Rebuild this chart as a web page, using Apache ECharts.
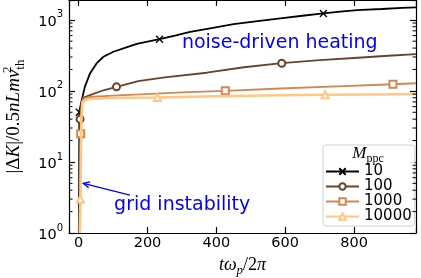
<!DOCTYPE html>
<html><head><meta charset="utf-8">
<script src="https://cdn.jsdelivr.net/npm/echarts@6/dist/echarts.min.js"></script>
<style>html,body{margin:0;padding:0;background:#fff}#c{width:421px;height:278px}</style>
</head><body><div id="c"></div>
<script>
// ---- data ----
const seriesNames = ['10', '100', '1000', '10000'];
const t10    = [1, 2, 5, 9, 18, 33, 52, 72, 101, 130, 169, 235, 280, 324, 390, 450, 520, 586, 650, 711, 760, 809, 880, 940, 980];
const k10    = [1, 50, 60, 74, 114, 176, 243, 302, 355, 397, 457, 533, 600, 677, 770, 870, 960, 1050, 1140, 1230, 1300, 1370, 1420, 1470, 1500];
const t100   = [2, 4, 7, 9, 13, 33, 72, 110, 173, 250, 372, 480, 590, 700, 800, 900, 980];
const k100   = [1, 40, 65, 70, 80, 87, 102, 114, 137, 155, 180, 215, 245, 270, 290, 312, 330];
const t1000  = [4, 6, 9, 13, 30, 100, 178, 300, 426, 586, 750, 913, 980];
const k1000  = [1, 25, 60, 78, 82, 86, 89, 95, 100, 108, 116, 124, 128];
const t10000 = [3, 5, 8, 11, 15, 25, 60, 100, 229, 400, 586, 716, 850, 980];
const k10000 = [1, 3, 40, 70, 74, 76, 78, 80, 81, 84, 87, 88, 89, 90];
const markTimes = [[2, 235, 711], [4, 110, 590], [6, 426, 913], [5, 229, 716]];
const xTickLabels = [0, 200, 400, 600, 800];
const yTickLabels = [1, 10, 100, 1000];

const X_MIN = -28, X_MAX = 980, Y_MIN = 1, Y_MAX = 1900;
const colors = ['#000000', '#6a422a', '#d48554', '#ffc77f'];
const symbols = ['path://M0,0L10,10M10,0L0,10', 'emptyCircle', 'emptyRect', 'emptyTriangle'];
const ts = [t10, t100, t1000, t10000];
const ks = [k10, k100, k1000, k10000];

const chart = echarts.init(document.getElementById('c'), null, {renderer: 'canvas'});

const lineSeries = seriesNames.map((name, s) => ({
  name, type: 'line', xAxisIndex: 0, yAxisIndex: 0,
  symbol: symbols[s], symbolSize: 7, showSymbol: true, showAllSymbol: true,
  clip: true,
  lineStyle: {color: colors[s], width: s === 3 ? 2.5 : 1.8},
  itemStyle: {color: colors[s], borderColor: colors[s], borderWidth: 1.3},
  emphasis: {disabled: true},
  z: 2 + s,
  data: ts[s].map((t, i) => markTimes[s].includes(t)
    ? {value: [t, ks[s][i]]}
    : {value: [t, ks[s][i]], symbol: 'none'})
}));

const minorVals = [];
for (let e = 0; e < 4; e++) for (let m = 2; m <= 9; m++) {
  const v = m * Math.pow(10, e); if (v <= Y_MAX) minorVals.push(v);
}
const minorSeries = {
  type: 'custom', xAxisIndex: 0, yAxisIndex: 0, silent: true, z: 10,
  data: minorVals.map(v => [X_MIN, v]),
  encode: {x: 0, y: 1},
  renderItem(params, api) {
    const v = api.value(1);
    const L = api.coord([X_MIN, v]);
    const R = api.coord([X_MAX, v]);
    return {type: 'group', children: [
      {type: 'line', shape: {x1: L[0], y1: L[1], x2: L[0] + 3.5, y2: L[1]}, style: {stroke: '#000', lineWidth: 1}},
      {type: 'line', shape: {x1: R[0], y1: R[1], x2: R[0] - 3.5, y2: R[1]}, style: {stroke: '#000', lineWidth: 1}}
    ]};
  }
};

const axisLine = {show: true, onZero: false, lineStyle: {color: '#000', width: 1.2}};
const axisTick = {show: true, inside: true, length: 6, lineStyle: {color: '#000', width: 1.2}};
const serif = 'Liberation Serif';

const option = {
  animation: false,
  grid: {left: 69, right: 5, top: 0, bottom: 45, containLabel: false, outerBoundsMode: 'none'},
  xAxis: [{
    type: 'value', min: X_MIN, max: X_MAX, splitNumber: 5, position: 'bottom',
    axisLine, axisTick, splitLine: {show: false},
    axisLabel: {formatter: v => xTickLabels.includes(v) ? String(v) : '', color: '#000',
      fontFamily: 'DejaVu Sans', fontSize: 14.5, margin: 3, showMinLabel: true, showMaxLabel: true},
    name: '{i|tω}{sub|p}{n|/2}{i|π}', nameLocation: 'middle', nameGap: 19,
    nameTextStyle: {rich: {
      i: {fontFamily: serif, fontStyle: 'italic', fontSize: 18, color: '#000'},
      n: {fontFamily: serif, fontSize: 18, color: '#000'},
      sub: {fontFamily: serif, fontStyle: 'italic', fontSize: 13, color: '#000', verticalAlign: 'bottom', lineHeight: 24}
    }}
  }, {
    type: 'value', min: X_MIN, max: X_MAX, splitNumber: 5, position: 'top',
    axisLine, axisTick, splitLine: {show: false}, axisLabel: {show: false}
  }],
  yAxis: [{
    type: 'log', logBase: 10, min: Y_MIN, max: Y_MAX, position: 'left',
    axisLine, axisTick, splitLine: {show: false},
    axisLabel: {
      formatter: v => {
        const e = Math.round(Math.log10(v));
        if (Math.abs(Math.log10(v) - e) > 1e-6 || !yTickLabels.includes(Math.pow(10, e))) return '';
        return '{b|10}{e|' + e + '}';
      },
      margin: 6,
      rich: {
        b: {fontFamily: 'DejaVu Sans', fontSize: 14.5, color: '#000', lineHeight: 20, verticalAlign: 'bottom'},
        e: {fontFamily: 'DejaVu Sans', fontSize: 10, color: '#000', verticalAlign: 'top', lineHeight: 20}
      }
    },
    name: '{n||Δ}{i|K}{n||/0.5}{i|nLmv}{sup|2}{sub|th}', nameLocation: 'middle', nameGap: 34, nameRotate: 90,
    nameTextStyle: {rich: {
      i: {fontFamily: serif, fontStyle: 'italic', fontSize: 19, color: '#000', lineHeight: 26},
      n: {fontFamily: serif, fontSize: 19, color: '#000', lineHeight: 26},
      sup: {fontFamily: serif, fontSize: 13, color: '#000', verticalAlign: 'top', lineHeight: 26, width: 0.01},
      sub: {fontFamily: serif, fontSize: 13, color: '#000', verticalAlign: 'bottom', lineHeight: 26}
    }}
  }, {
    type: 'log', logBase: 10, min: Y_MIN, max: Y_MAX, position: 'right',
    axisLine, axisTick, splitLine: {show: false}, axisLabel: {show: false}
  }],
  legend: {
    data: seriesNames, orient: 'vertical', left: 323, top: 145,
    padding: [19, 3, 2, 2], itemGap: 0, itemWidth: 33, itemHeight: 8,
    backgroundColor: 'rgba(255,255,255,0.85)', borderColor: '#d0d0d0', borderWidth: 1, borderRadius: 3,
    textStyle: {fontFamily: 'DejaVu Sans', fontSize: 15, color: '#000', lineHeight: 14.7},
    selectedMode: false
  },
  series: [...lineSeries, minorSeries]
};
chart.setOption(option);

// annotations anchored in data space
const px = p => chart.convertToPixel({xAxisIndex: 0, yAxisIndex: 0}, p);
const heat = px([300, 470]);
const gridTxt = px([103, 2.48]);
const tail = px([149, 3.4]);
const head = px([13.5, 5.0]);
const ang = Math.atan2(tail[1] - head[1], tail[0] - head[0]);
const ah = 7, aw = 0.45;
const a1 = [head[0] + ah * Math.cos(ang + aw), head[1] + ah * Math.sin(ang + aw)];
const a2 = [head[0] + ah * Math.cos(ang - aw), head[1] + ah * Math.sin(ang - aw)];
const legTitlePos = [368, 154];
chart.setOption({graphic: [
  {type: 'text', x: heat[0], y: heat[1], z: 20, style: {text: 'noise-driven heating', fill: '#0000ff',
    font: '19px "DejaVu Sans"', align: 'left', verticalAlign: 'middle'}},
  {type: 'text', x: gridTxt[0], y: gridTxt[1], z: 20, style: {text: 'grid instability', fill: '#0000ff',
    font: '19px "DejaVu Sans"', align: 'left', verticalAlign: 'middle'}},
  {type: 'line', z: 20, shape: {x1: tail[0], y1: tail[1], x2: head[0], y2: head[1]}, style: {stroke: '#0000ff', lineWidth: 1.3}},
  {type: 'polyline', z: 20, shape: {points: [a1, head, a2]}, style: {stroke: '#0000ff', lineWidth: 1.3, fill: null}},
  {type: 'text', x: legTitlePos[0], y: legTitlePos[1], z: 30, style: {text: '{i|M}{s|ppc}', align: 'center', verticalAlign: 'middle',
    rich: {i: {fontFamily: serif, fontStyle: 'italic', fontSize: 17, fill: '#000', lineHeight: 22},
           s: {fontFamily: serif, fontSize: 12, fill: '#000', verticalAlign: 'bottom', lineHeight: 22}}}}
]});
</script></body></html>
